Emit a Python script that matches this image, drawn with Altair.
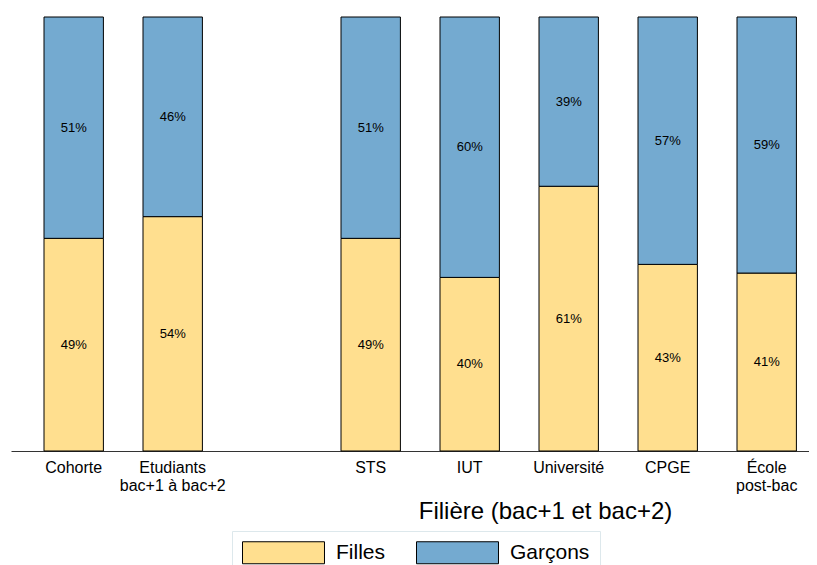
import altair as alt
import pandas as pd

categories = ["Cohorte", "Etudiants|bac+1 à bac+2", "gap", "STS", "IUT", "Université", "CPGE", "École|post-bac"]
bar_categories = ["Cohorte", "Etudiants|bac+1 à bac+2", "STS", "IUT", "Université", "CPGE", "École|post-bac"]
filles = [49, 54, 49, 40, 61, 43, 41]
garcons = [51, 46, 51, 60, 39, 57, 59]
series = ["Filles", "Garçons"]
colors = ["#ffdf8f", "#74aad0"]

rows = []
for c, f, g in zip(bar_categories, filles, garcons):
    rows.append({"cat": c, "sexe": "Filles", "ord": 0, "v": f, "mid": f / 2, "lab": f"{f}%"})
    rows.append({"cat": c, "sexe": "Garçons", "ord": 1, "v": g, "mid": f + g / 2, "lab": f"{g}%"})
df = pd.DataFrame(rows)

FONT = "Liberation Sans"

x_enc = alt.X(
    "cat:N",
    sort=categories,
    scale=alt.Scale(domain=categories, paddingInner=0.4, paddingOuter=0.2303, align=0.7237),
    axis=alt.Axis(
        title="Filière (bac+1 et bac+2)",
        labelExpr="datum.label == 'gap' ? '' : split(datum.label, '|')",
        labelAngle=0,
        labelFontSize=16,
        labelFont=FONT,
        labelColor="black",
        labelPadding=8,
        labelLineHeight=18,
        ticks=False,
        domain=True,
        domainColor="#333333",
        domainWidth=1,
        grid=False,
        titleFontSize=24,
        titleFont=FONT,
        titleFontWeight="normal",
        titleColor="black",
        titleX=534,
        titleY=67,
        titleAlign="center",
        titleBaseline="alphabetic",
    ),
)

bars = alt.Chart(df).mark_bar(stroke="black", strokeWidth=1).encode(
    x=x_enc,
    y=alt.Y("v:Q", stack="zero", scale=alt.Scale(domain=[0, 100]), axis=None),
    fill=alt.Fill(
        "sexe:N",
        scale=alt.Scale(domain=series, range=colors),
        legend=alt.Legend(
            title=None,
            orient="none",
            legendX=221,
            legendY=514,
            direction="horizontal",
            symbolType="M-3.727,-1H3.727V1H-3.727Z",
            symbolSize=484,
            symbolStrokeColor="black",
            symbolStrokeWidth=1,
            symbolOpacity=1,
            symbolOffset=30,
            labelOffset=41,
            labelFontSize=21,
            labelFont=FONT,
            labelColor="black",
            columnPadding=28,
            padding=10,
            strokeColor="#dde8ec",
            fillColor="white",
        ),
    ),
    order=alt.Order("ord:Q", sort="ascending"),
)

labels = alt.Chart(df).mark_text(fontSize=13, font=FONT, color="black", baseline="middle", align="center").encode(
    x=alt.X("cat:N", sort=categories),
    y=alt.Y("mid:Q"),
    text="lab:N",
)

chart = alt.layer(bars, labels).properties(
    width=798,
    height=434,
    autosize=alt.AutoSizeParams(type="none"),
    padding={"left": 3, "top": 9, "right": 0, "bottom": 114},
).configure_view(stroke=None)

chart.save("out.html", embed_options={"renderer": "svg", "actions": False})
